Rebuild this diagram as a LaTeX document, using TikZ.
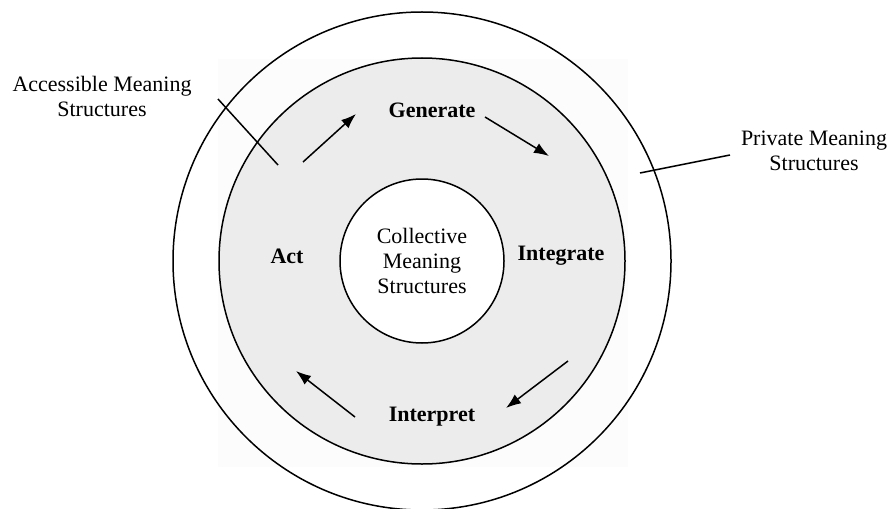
\documentclass[tikz,border=0pt]{standalone}
\usepackage{fontspec}
\setmainfont{Liberation Serif}
\usepackage{tikz}
\usetikzlibrary{calc}
\usetikzlibrary{arrows.meta}
\tikzset{>={Latex[length=15pt,width=11pt]}}
\definecolor{ringgray}{HTML}{ECECEC}
\tikzset{lbl/.style={font=\fontsize{22}{25}\selectfont,align=center,inner sep=0pt},
	step lbl/.style={lbl,font=\fontsize{22}{25}\selectfont\bfseries},
	cyc/.style={line width=1.5pt,->}}

\begin{document}
\begin{tikzpicture}[x=1pt,y=-1pt,line width=1.5pt]
			\useasboundingbox (0,0) rectangle (890,508);
			\coordinate (O) at (422,261);
			% faint backdrop and rings
			\fill[black!1] (218,59) rectangle (628,467);
			\draw (O) circle[radius=249pt];
			\filldraw[fill=ringgray] (O) circle[radius=203pt];
			\filldraw[fill=white] (O) node[lbl]{Collective\\Meaning\\Structures} circle[radius=82pt];
			% cycle labels
			\node[step lbl] (gen) at (432,110) {Generate};
			\node[step lbl] (int) at (561,256) {Integrate};
			\node[step lbl] (itp) at (432,417) {Interpret};
			\node[step lbl] (act) at (287,256) {Act};
			% outer labels
			\node[lbl] (acc) at (102,96) {Accessible Meaning\\Structures};
			\node[lbl] (prv) at (814,151) {Private Meaning\\Structures};
			% arrow ends
			\coordinate (A1) at (303,162);
			\coordinate (A2) at (356,114);
			\coordinate (G1) at (485,117);
			\coordinate (G2) at (549,156);
			\coordinate (I1) at (568,361);
			\coordinate (I2) at (506,408);
			\coordinate (P1) at (355,417);
			\coordinate (P2) at (296,371);
			\draw[cyc] (A1)--(A2);
			\draw[cyc] (G1)--(G2);
			\draw[cyc] (I1)--(I2);
			\draw[cyc] (P1)--(P2);
			% leader lines
			\coordinate (La) at (218,99);
			\coordinate (Lb) at (278,165);
			\coordinate (Lc) at (730,155);
			\coordinate (Ld) at (640,173);
			\draw (La)--(Lb);
			\draw (Lc)--(Ld);
		\end{tikzpicture}
\end{document}
